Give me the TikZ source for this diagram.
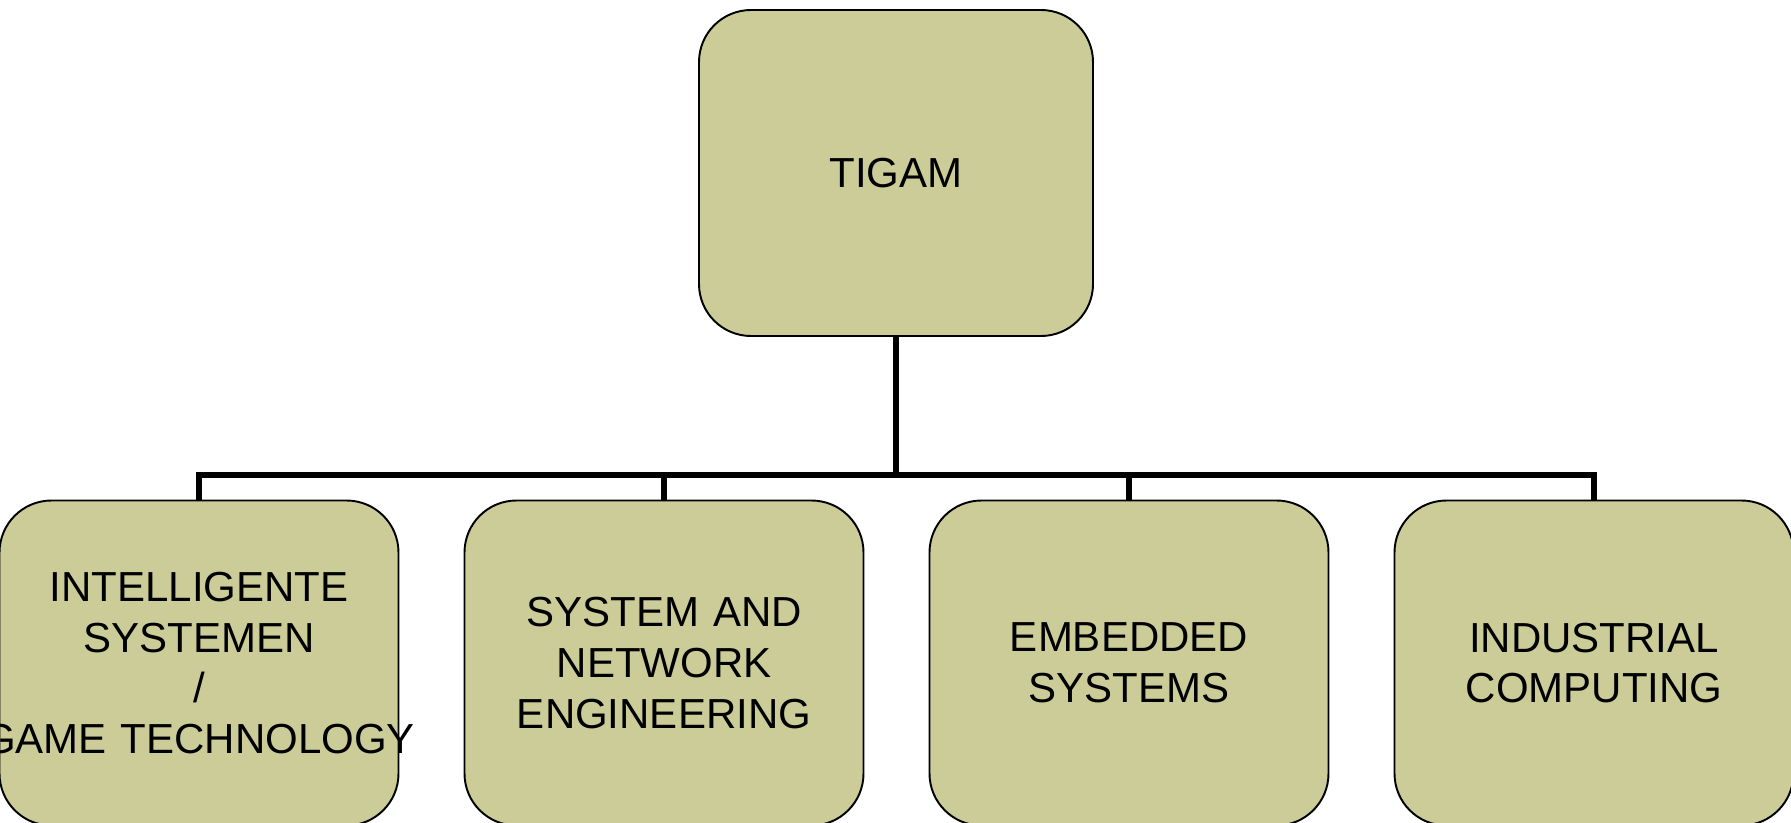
\documentclass[tikz,border=0pt]{standalone}
\usepackage{fontspec}
\setmainfont{Liberation Sans}
\definecolor{boxfill}{HTML}{CCCC99}

\begin{document}
\begin{tikzpicture}
      [box/.style={
         draw,
         fill = boxfill,
         line width = 1.1pt,
         rounded corners = 1.04cm,
         inner sep = 0pt,
         text width = 7.98cm,
         minimum height = 6.5cm,
         align = center,
         font = \fontsize{23.9}{28.9}\selectfont
      },
      conn/.style={line width = 3.3pt}]
      \useasboundingbox (0, 0) rectangle (35.82, 16.44);

      \node[box, text width = 7.88cm, minimum height = 6.52cm] (tigam) at (17.92, 12.98) {TIGAM};

      \node[box] (is) at (3.98, 3.18) {INTELLIGENTE\\SYSTEMEN\\/\\\makebox[\linewidth]{GAME TECHNOLOGY}};
      \node[box] (sne) at (13.28, 3.18) {SYSTEM AND\\NETWORK\\ENGINEERING};
      \node[box] (es) at (22.58, 3.18) {EMBEDDED\\SYSTEMS};
      \node[box] (ic) at (31.88, 3.18) {INDUSTRIAL\\COMPUTING};

      \coordinate (split) at (17.92, 6.94);
      \draw[conn] (tigam.south) -- (split);
      \foreach \n in {is, sne, es, ic}
         \draw[conn] (split) -| (\n.north);

   \end{tikzpicture}
\end{document}
